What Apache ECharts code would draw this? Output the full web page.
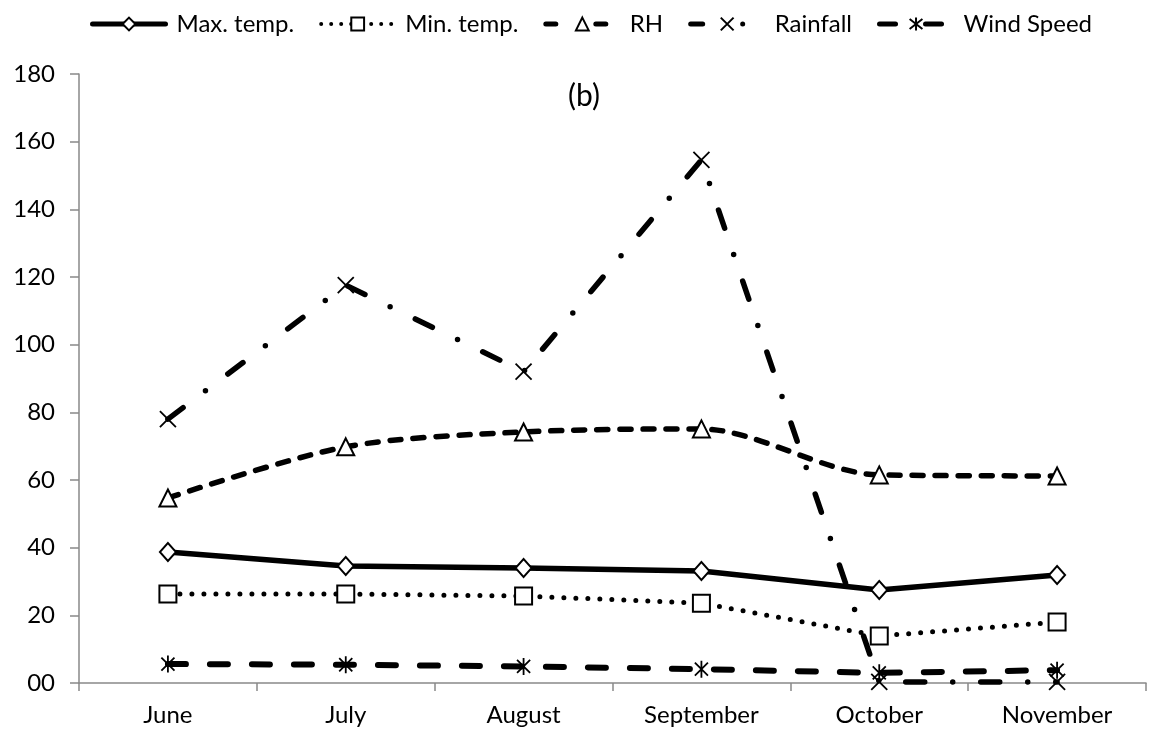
<!DOCTYPE html>
<html>
<head>
<meta charset="utf-8">
<script src="https://cdn.jsdelivr.net/npm/echarts@6/dist/echarts.min.js"></script>
<style>
html,body{margin:0;padding:0;background:#fff;}
#chart{width:1156px;height:742px;}
</style>
</head>
<body>
<div id="chart"></div>
<script>
const categories = ['June', 'July', 'August', 'September', 'October', 'November'];
const maxTemp   = [38.7, 34.6, 34.0, 33.1, 27.5, 31.9];
const minTemp   = [26.3, 26.3, 25.7, 23.6, 13.9, 18.0];
const rh        = [54.7, 69.8, 74.2, 75.1, 61.5, 61.2];
const rainfall  = [78.0, 117.6, 92.0, 154.6, 0.3, 0.3];
const windSpeed = [5.6, 5.4, 4.9, 4.1, 3.0, 3.8];
const yTickLabels = ['00', '20', '40', '60', '80', '100', '120', '140', '160', '180'];
const seriesNames = ['Max. temp.', 'Min. temp.', 'RH', 'Rainfall', 'Wind Speed'];

const FONT = 'Lato';
const AXIS_GRAY = '#898989';
const X_PATH = 'path://M0,0L10,10M10,0L0,10';
const AST_PATH = 'path://M0,0L10,10M10,0L0,10M5,-1.5L5,11.5';

const lineStyles = [
  {color: '#000', width: 5.5, type: 'solid', cap: 'round'},
  {color: '#000', width: 5, type: [0, 12], cap: 'round'},
  {color: '#000', width: 5.5, type: [11, 12], cap: 'round'},
  {color: '#000', width: 5.5, type: [19, 28, 0, 28], cap: 'round'},
  {color: '#000', width: 6, type: [18, 24], cap: 'round'}
];
const legendLineStyles = [
  {color: '#000', width: 5, type: 'solid', cap: 'round'},
  {color: '#000', width: 4, type: [0, 10], cap: 'round'},
  {color: '#000', width: 5, type: [10, 40], cap: 'round'},
  {color: '#000', width: 5, type: [12, 40, 0, 50], cap: 'round'},
  {color: '#000', width: 5, type: [16, 30], cap: 'round'}
];

const chart = echarts.init(document.getElementById('chart'), null, {renderer: 'canvas'});
chart.setOption({
  animation: false,
  backgroundColor: '#fff',
  textStyle: {fontFamily: FONT, color: '#000'},
  legend: {
    top: 7,
    left: 85,
    itemWidth: 73,
    itemHeight: 16,
    itemGap: 25,
    textStyle: {fontFamily: FONT, fontSize: 24, color: '#000', padding: [0, 0, 0, 6]},
    data: seriesNames.map(function (n, i) { return {name: n, lineStyle: legendLineStyles[i]}; })
  },
  graphic: [{
    type: 'text',
    left: 568,
    top: 81,
    style: {text: '(b)', font: '30px Lato', fill: '#000'}
  }],
  grid: {left: 79, right: 10, top: 74, bottom: 59, containLabel: false},
  xAxis: {
    type: 'category',
    data: categories,
    boundaryGap: true,
    axisLine: {lineStyle: {color: AXIS_GRAY, width: 1.5}},
    axisTick: {show: true, length: 8, alignWithLabel: false, lineStyle: {color: AXIS_GRAY, width: 1.5}},
    axisLabel: {fontFamily: FONT, fontSize: 24, color: '#000', margin: 20}
  },
  yAxis: {
    type: 'value',
    min: 0,
    max: 180,
    interval: 20,
    splitLine: {show: false},
    axisLine: {show: true, lineStyle: {color: AXIS_GRAY, width: 1.5}},
    axisTick: {show: true, length: 9, lineStyle: {color: AXIS_GRAY, width: 1.5}},
    axisLabel: {
      fontFamily: FONT, fontSize: 24, color: '#000', margin: 24,
      formatter: function (v) { return yTickLabels[Math.round(v / 20)]; }
    }
  },
  series: [
    {
      name: seriesNames[0], type: 'line', data: maxTemp,
      symbol: 'emptyDiamond', symbolSize: [16, 18],
      itemStyle: {color: '#000', borderColor: '#000', borderWidth: 1.8},
      lineStyle: lineStyles[0],
      z: 5
    },
    {
      name: seriesNames[1], type: 'line', data: minTemp,
      symbol: 'emptyRect', symbolSize: 17,
      itemStyle: {color: '#000', borderColor: '#000', borderWidth: 1.8},
      lineStyle: lineStyles[1],
      z: 4
    },
    {
      name: seriesNames[2], type: 'line', data: rh,
      smooth: 0.3,
      symbol: 'emptyTriangle', symbolSize: 17,
      itemStyle: {color: '#000', borderColor: '#000', borderWidth: 1.8},
      lineStyle: lineStyles[2],
      z: 3
    },
    {
      name: seriesNames[3], type: 'line', data: rainfall,
      symbol: X_PATH, symbolSize: 16, symbolKeepAspect: true,
      itemStyle: {color: '#000', borderColor: '#000', borderWidth: 1.8},
      lineStyle: lineStyles[3],
      z: 6
    },
    {
      name: seriesNames[4], type: 'line', data: windSpeed,
      symbol: AST_PATH, symbolSize: 17, symbolKeepAspect: true,
      itemStyle: {color: '#000', borderColor: '#000', borderWidth: 1.8},
      lineStyle: lineStyles[4],
      z: 2
    }
  ]
});
</script>
</body>
</html>
